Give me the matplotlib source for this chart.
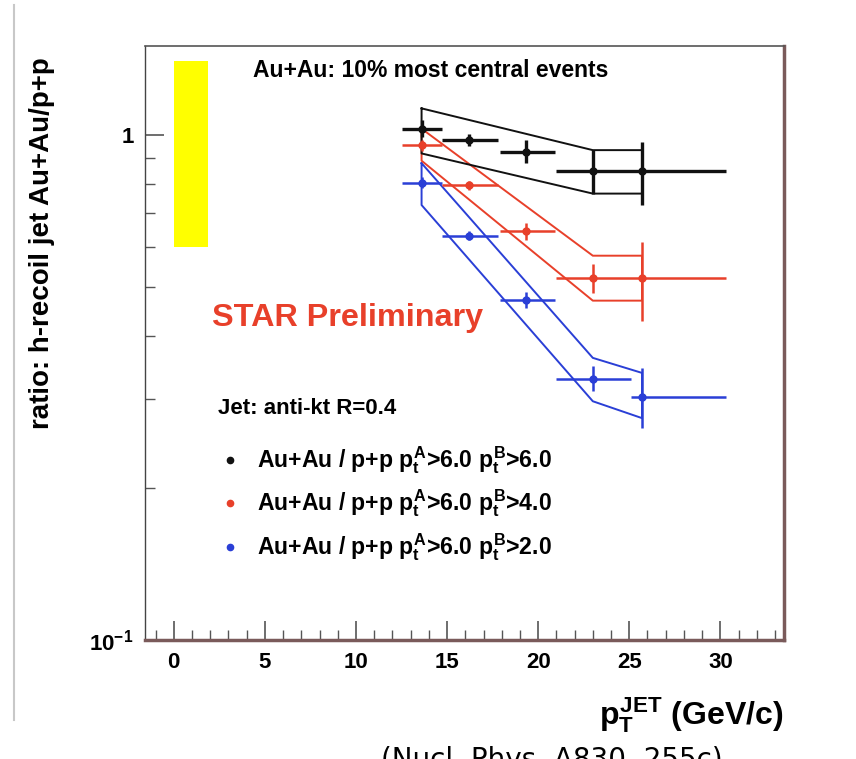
import matplotlib
matplotlib.use("Agg")
import matplotlib.pyplot as plt
from matplotlib.lines import Line2D
from matplotlib.patches import Rectangle
from matplotlib.ticker import FixedLocator, FixedFormatter, MultipleLocator, NullFormatter

plt.rcParams['font.family'] = ['Liberation Sans', 'DejaVu Sans']
plt.rcParams['font.weight'] = 'bold'
plt.rcParams['mathtext.fontset'] = 'custom'
plt.rcParams['mathtext.rm'] = 'Liberation Sans:bold'
plt.rcParams['mathtext.it'] = 'Liberation Sans:bold'
plt.rcParams['mathtext.bf'] = 'Liberation Sans:bold'

# jet pT bins (GeV/c)
pt = [13.6, 16.2, 19.35, 23.0, 25.7]
pt_lo = [12.5, 14.7, 17.9, 21.0, 25.7]
pt_hi = [14.7, 17.8, 20.95, 25.7, 30.3]
pt_lo_blue = [12.5, 14.7, 17.9, 21.0, 25.1]
pt_hi_blue = [14.7, 17.8, 20.95, 25.1, 30.3]

# pt^B > 6.0
r_black = [1.03, 0.977, 0.926, 0.849, 0.849]
r_black_lo = [0.99, 0.95, 0.88, 0.766, 0.726]
r_black_hi = [1.07, 1.005, 0.98, 0.934, 0.97]
# pt^B > 4.0
r_red = [0.955, 0.795, 0.647, 0.521, 0.521]
r_red_lo = [0.93, 0.78, 0.62, 0.487, 0.429]
r_red_hi = [0.98, 0.81, 0.67, 0.556, 0.614]
# pt^B > 2.0
r_blue = [0.804, 0.631, 0.471, 0.328, 0.303]
r_blue_lo = [0.785, 0.62, 0.455, 0.311, 0.263]
r_blue_hi = [0.825, 0.645, 0.488, 0.349, 0.346]

# systematic bands (upper / lower edges)
band_x = [13.6, 23.0, 25.7]
band_black_up = [1.13, 0.934, 0.934]
band_black_dn = [0.92, 0.766, 0.766]
band_red_up = [1.03, 0.577, 0.577]
band_red_dn = [0.89, 0.47, 0.47]
band_blue_up = [0.88, 0.362, 0.338]
band_blue_dn = [0.727, 0.297, 0.275]

# normalisation uncertainty box
norm_x = [0.0, 1.85]
norm_y = [0.6, 1.4]

BLACK = '#111111'
RED = '#e8402a'
BLUE = '#2a3fd6'

fig = plt.figure(figsize=(8.56, 7.59), dpi=100)
ax = fig.add_axes([0.169, 0.157, 0.747, 0.782])
ax.set_yscale('log')
ax.set_xlim(-1.6, 33.5)
ax.set_ylim(0.1, 1.5)

ax.add_patch(Rectangle((norm_x[0], norm_y[0]), norm_x[1] - norm_x[0], norm_y[1] - norm_y[0],
                       facecolor='#ffff00', edgecolor='none', zorder=1))


def draw_set(xlo, xhi, y, ylo, yhi, up, dn, color, lw):
    bx = band_x + band_x[::-1] + [band_x[0]]
    by = up + dn[::-1] + [up[0]]
    ax.plot(bx, by, color=color, lw=1.4, zorder=2)
    xerr = [[p - l for p, l in zip(pt, xlo)], [h - p for p, h in zip(pt, xhi)]]
    yerr = [[v - l for v, l in zip(y, ylo)], [h - v for v, h in zip(y, yhi)]]
    ax.errorbar(pt, y, xerr=xerr, yerr=yerr, fmt='o', ms=5, color=color,
                ecolor=color, elinewidth=lw, capsize=0, zorder=3)


draw_set(pt_lo_blue, pt_hi_blue, r_blue, r_blue_lo, r_blue_hi, band_blue_up, band_blue_dn, BLUE, 1.8)
draw_set(pt_lo, pt_hi, r_red, r_red_lo, r_red_hi, band_red_up, band_red_dn, RED, 1.8)
draw_set(pt_lo, pt_hi, r_black, r_black_lo, r_black_hi, band_black_up, band_black_dn, BLACK, 2.4)

# axes style (ROOT-like)
ax.yaxis.set_major_locator(FixedLocator([0.1, 1.0]))
ax.yaxis.set_major_formatter(FixedFormatter([r'$10^{-1}$', '1']))
ax.yaxis.set_minor_locator(FixedLocator([0.2, 0.3, 0.4, 0.5, 0.6, 0.7, 0.8, 0.9]))
ax.yaxis.set_minor_formatter(NullFormatter())
ax.xaxis.set_major_locator(MultipleLocator(5))
ax.xaxis.set_minor_locator(MultipleLocator(1))
ax.tick_params(which='major', direction='in', length=14, width=1.2, labelsize=16, color='#555555')
ax.tick_params(which='minor', direction='in', length=7, width=1.0, color='#555555')
ax.tick_params(axis='x', pad=9)
ax.tick_params(axis='y', pad=8)
for lab in ax.get_xticklabels() + ax.get_yticklabels():
    lab.set_fontweight('bold')

ax.spines['left'].set_color('#444444')
ax.spines['top'].set_color('#555555')
ax.spines['right'].set_color('#7a5a5a')
ax.spines['bottom'].set_color('#7a5a5a')
ax.spines['right'].set_linewidth(2.5)
ax.spines['bottom'].set_linewidth(2.5)
ax.spines['left'].set_linewidth(1.0)
ax.spines['top'].set_linewidth(1.2)

ax.set_ylabel('ratio: h-recoil jet Au+Au/p+p', fontsize=20, fontweight='bold')
ax.yaxis.set_label_coords(-0.14, 0.668)
fig.text(0.915, 0.045, r'$p_{T}^{JET}$ (GeV/c)', fontsize=23, fontweight='bold', ha='right', va='baseline')

ax.text(0.448, 0.96, 'Au+Au: 10% most central events', transform=ax.transAxes,
        fontsize=16.5, fontweight='bold', ha='center', va='center')
ax.text(0.105, 0.542, 'STAR Preliminary', transform=ax.transAxes,
        fontsize=23.3, fontweight='bold', color=RED, ha='left', va='center')
ax.text(0.114, 0.39, 'Jet: anti-kt R=0.4', transform=ax.transAxes,
        fontsize=16, fontweight='bold', ha='left', va='center')

labels = [r'Au+Au / p+p $p_{t}^{A}$>6.0 $p_{t}^{B}$>6.0',
          r'Au+Au / p+p $p_{t}^{A}$>6.0 $p_{t}^{B}$>4.0',
          r'Au+Au / p+p $p_{t}^{A}$>6.0 $p_{t}^{B}$>2.0']
leg_colors = [BLACK, RED, BLUE]
leg_y = [0.303, 0.230, 0.157]
for lab, c, yy in zip(labels, leg_colors, leg_y):
    ax.plot([0.133], [yy], ls='none', marker='o', ms=4.5, color=c, transform=ax.transAxes)
    ax.text(0.175, yy, lab, transform=ax.transAxes, fontsize=16.6, fontweight='bold',
            ha='left', va='center')

# screenshot edge and cut-off caption
fig.add_artist(Line2D([14 / 856, 14 / 856], [1 - 5 / 759, 1 - 720 / 759], color='#c8c8c8', lw=1.5))
fig.text(0.645, 1 - 768 / 759, '(Nucl. Phys. A830, 255c)', fontsize=20, fontweight='normal',
         family='DejaVu Sans', ha='center', va='baseline')

fig.savefig('out.png', dpi=100)
